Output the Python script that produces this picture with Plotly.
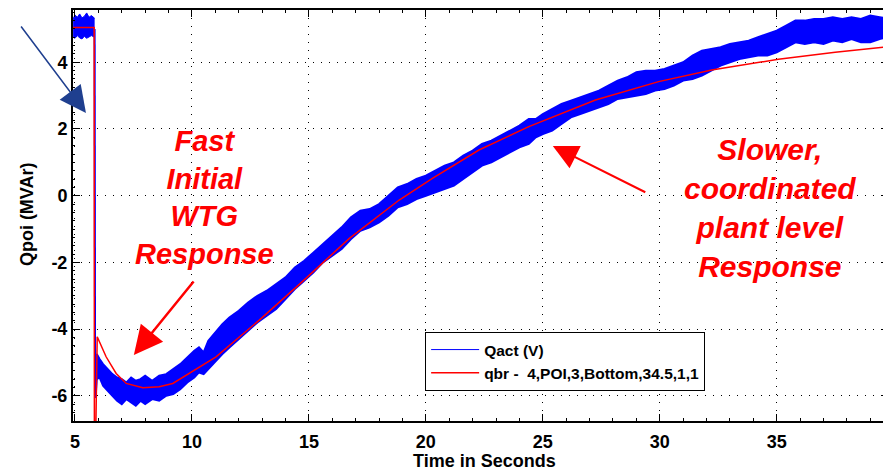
import plotly.graph_objects as go

# ---- data ----
# Qact (V): noisy band before the step
tA = [4.92, 5.0, 5.1, 5.2, 5.3, 5.4, 5.5, 5.6, 5.7, 5.84]
qA_hi = [5.30, 5.42, 5.35, 5.45, 5.33, 5.38, 5.48, 5.35, 5.40, 5.32]
qA_lo = [4.75, 4.72, 4.80, 4.73, 4.70, 4.78, 4.72, 4.75, 4.80, 4.75]
# step drop of Qact
t_drop = [5.84, 5.86]
q_drop = [5.0, -6.07]
# Qact band after the step (upper / lower envelope)
tB = [5.88, 5.93, 6.05, 6.2, 6.4, 6.6, 6.8, 7.0, 7.2, 7.4, 7.6, 7.8, 8.0, 8.3,
      8.6, 8.9, 9.2, 9.5, 9.8, 10.1, 10.3, 10.5, 10.7, 11.0, 11.3, 11.6, 12.0,
      12.4, 12.8, 13.2, 13.6, 14.0, 14.4, 14.8, 15.2, 15.6, 16.0, 16.4, 16.8,
      17.2, 17.6, 18.0, 18.4, 18.8, 19.2, 19.6, 20.0, 20.4, 20.8, 21.2, 21.6,
      22.0, 22.4, 22.8, 23.2, 23.6, 24.0, 24.4, 24.7, 25.0, 25.4, 25.8, 26.2,
      26.6, 27.0, 27.4, 27.8, 28.2, 28.6, 29.0, 29.4, 29.8, 30.2, 30.6, 31.0,
      31.4, 31.8, 32.2, 32.6, 33.0, 33.4, 33.8, 34.2, 34.6, 35.0, 35.4, 35.8,
      36.2, 36.6, 37.0, 37.4, 37.8, 38.2, 38.6, 39.0, 39.4, 39.8]
qB_hi = [-5.6, -4.75, -4.9, -5.05, -5.2, -5.35, -5.45, -5.5, -5.6, -5.45, -5.55,
         -5.5, -5.4, -5.55, -5.4, -5.35, -5.2, -5.05, -4.85, -4.65, -4.55, -4.7,
         -4.35, -4.1, -3.85, -3.65, -3.45, -3.2, -3.0, -2.85, -2.65, -2.45, -2.15,
         -1.95, -1.7, -1.45, -1.2, -0.95, -0.65, -0.45, -0.4, -0.25, 0.0, 0.25,
         0.35, 0.5, 0.6, 0.75, 0.9, 1.0, 1.2, 1.35, 1.55, 1.65, 1.8, 1.95, 2.1,
         2.3, 2.3, 2.45, 2.6, 2.75, 2.85, 2.95, 3.05, 3.15, 3.3, 3.45, 3.55, 3.7,
         3.75, 3.75, 3.8, 3.9, 4.0, 4.2, 4.35, 4.4, 4.45, 4.55, 4.6, 4.65, 4.75,
         4.85, 4.95, 5.1, 5.25, 5.25, 5.3, 5.3, 5.35, 5.3, 5.35, 5.3, 5.4, 5.35,
         5.3]
qB_lo = [-6.07, -5.5, -5.45, -5.7, -5.85, -6.0, -6.15, -6.25, -6.1, -6.2, -6.3,
         -6.15, -6.25, -6.1, -6.15, -6.0, -5.95, -5.8, -5.6, -5.45, -5.3, -5.35,
         -5.2, -4.95, -4.75, -4.55, -4.3, -4.05, -3.8, -3.6, -3.4, -3.1, -2.8,
         -2.55, -2.3, -2.0, -1.8, -1.6, -1.3, -1.05, -0.95, -0.8, -0.6, -0.35,
         -0.25, -0.1, 0.0, 0.1, 0.2, 0.3, 0.5, 0.7, 0.9, 1.0, 1.15, 1.3, 1.45,
         1.55, 1.75, 1.85, 1.95, 2.15, 2.35, 2.45, 2.55, 2.65, 2.75, 2.9, 2.95,
         3.0, 3.05, 3.15, 3.2, 3.3, 3.45, 3.5, 3.6, 3.75, 3.9, 4.0, 4.1, 4.15,
         4.2, 4.2, 4.3, 4.45, 4.6, 4.55, 4.6, 4.55, 4.65, 4.6, 4.7, 4.6, 4.6,
         4.7, 4.75]
# qbr reference curve
t_qbr = [4.92, 5.82, 5.83, 5.88, 5.95, 6.33, 6.76, 7.19, 7.9, 8.6, 9.18, 9.89,
         11.03, 12.88, 14.6, 16.73, 18.86, 20.28, 22.27, 24.4, 27.25, 29.95,
         31.65, 32.22, 35.07, 37.5, 39.8]
q_qbr = [5.04, 5.04, -7.5, -7.5, -4.23, -4.83, -5.33, -5.63, -5.76, -5.73, -5.63,
         -5.33, -4.83, -3.73, -2.65, -1.28, -0.13, 0.52, 1.37, 2.07, 2.87, 3.42,
         3.69, 3.77, 4.09, 4.3, 4.47]

x_ticks = [5, 10, 15, 20, 25, 30, 35]
x_tick_text = ["5", "10", "15", "20", "25", "30", "35"]
y_ticks = [-6, -4, -2, 0, 2, 4]
y_tick_text = ["-6", "-4", "-2", "0", "2", "4"]

BLUE = "#0000FF"
RED = "#FF0000"
FONT = "Arial, Liberation Sans, sans-serif"

# page body has an 8px default margin; figure is sized so the page matches 891x472
OFF = 8
W, H = 891 - OFF, 472 - OFF
PL, PT, PW, PH = 73, 10, 818, 411   # plot area in window pixels


def px(x):
    return (x - PL) / PW


def py(y):
    return 1 - (y - PT) / PH


fig = go.Figure()

fig.add_trace(go.Scatter(x=tA, y=qA_lo, mode="lines", line=dict(color=BLUE, width=1),
                         showlegend=False, hoverinfo="skip"))
fig.add_trace(go.Scatter(x=tA, y=qA_hi, mode="lines", line=dict(color=BLUE, width=1),
                         fill="tonexty", fillcolor=BLUE, showlegend=False, hoverinfo="skip"))
fig.add_trace(go.Scatter(x=t_drop, y=q_drop, mode="lines", line=dict(color=BLUE, width=2),
                         showlegend=False, hoverinfo="skip"))
fig.add_trace(go.Scatter(x=tB, y=qB_lo, mode="lines", line=dict(color=BLUE, width=2),
                         showlegend=False, hoverinfo="skip"))
fig.add_trace(go.Scatter(x=tB, y=qB_hi, mode="lines", line=dict(color=BLUE, width=2),
                         fill="tonexty", fillcolor=BLUE, showlegend=False, hoverinfo="skip"))
fig.add_trace(go.Scatter(x=[None], y=[None], mode="lines", name="Qact (V)",
                         line=dict(color=BLUE, width=1)))
fig.add_trace(go.Scatter(x=t_qbr, y=q_qbr, mode="lines",
                         name="qbr -  4,POI,3,Bottom,34.5,1,1",
                         line=dict(color=RED, width=1.5)))

axis_common = dict(
    showline=True, linecolor="black", linewidth=2, mirror="ticks",
    ticks="inside", tickcolor="black", ticklen=7, tickwidth=1,
    showgrid=True, gridcolor="black", gridwidth=1, griddash="1px,7px",
    zeroline=False,
    tickfont=dict(family=FONT, size=18, color="black", weight="bold"),
)

fig.update_xaxes(range=[4.915, 39.8], tickvals=x_ticks,
                 ticktext=["<b>%s</b>" % t for t in x_tick_text],
                 ticklabelstandoff=3,
                 minor=dict(dtick=1, ticks="inside", ticklen=3, tickcolor="black", showgrid=False),
                 **axis_common)
fig.update_yaxes(range=[-6.756, 5.568], tickvals=y_ticks,
                 ticktext=["<b>%s</b>" % t for t in y_tick_text],
                 minor=dict(dtick=0.25, ticks="inside", ticklen=2, tickcolor="black", showgrid=False),
                 **axis_common)

ann_font = dict(family=FONT, size=29, color=RED, weight="bold", style="italic")
title_font = dict(family=FONT, size=18, color="black", weight="bold")
annotations = [
    dict(text="Fast<br>Initial<br>WTG<br>Response", xref="paper", yref="paper",
         x=px(205), y=py(197), showarrow=False, font=ann_font,
         xanchor="center", yanchor="middle"),
    dict(text="Slower,<br>coordinated<br>plant level<br>Response", xref="paper", yref="paper",
         x=px(772), y=py(208), showarrow=False, font=dict(ann_font, size=30),
         xanchor="center", yanchor="middle"),
    dict(text="", xref="paper", yref="paper", x=px(134), y=py(355),
         ax=195 - 134, ay=280 - 355, showarrow=True, arrowhead=2, arrowsize=2.3,
         arrowwidth=2.5, arrowcolor=RED),
    dict(text="", xref="paper", yref="paper", x=px(554), y=py(146),
         ax=648 - 554, ay=193 - 146, showarrow=True, arrowhead=2, arrowsize=2.5,
         arrowwidth=2, arrowcolor=RED),
    dict(text="", xref="paper", yref="paper", x=px(86), y=py(113),
         ax=20 - 86, ay=25 - 113, showarrow=True, arrowhead=2, arrowsize=3.5,
         arrowwidth=1.5, arrowcolor="#1F3F8F"),
    dict(text="Time in Seconds", xref="paper", yref="paper", x=px(486), y=py(461),
         showarrow=False, xanchor="center", yanchor="middle", font=title_font),
    dict(text="Qpoi (MVAr)", xref="paper", yref="paper", x=px(27), y=py(214),
         showarrow=False, textangle=-90, xanchor="center", yanchor="middle",
         font=title_font),
    dict(text="<b>40</b>", xref="paper", yref="paper", x=px(896), y=py(439),
         showarrow=False, xanchor="center", yanchor="middle",
         font=dict(family=FONT, size=18, color="black")),
]

fig.update_layout(
    width=W, height=H,
    margin=dict(l=PL - OFF, r=W - (PL - OFF) - PW, t=PT - OFF, b=H - (PT - OFF) - PH),
    paper_bgcolor="white", plot_bgcolor="white",
    annotations=annotations,
    legend=dict(x=px(426), y=py(332), xanchor="left", yanchor="top",
                bgcolor="white", bordercolor="black", borderwidth=1,
                font=dict(family=FONT, size=15.5, color="black", weight="bold"),
                traceorder="normal", itemwidth=48, tracegroupgap=0),
    showlegend=True,
)

fig.write_html("out.html")
